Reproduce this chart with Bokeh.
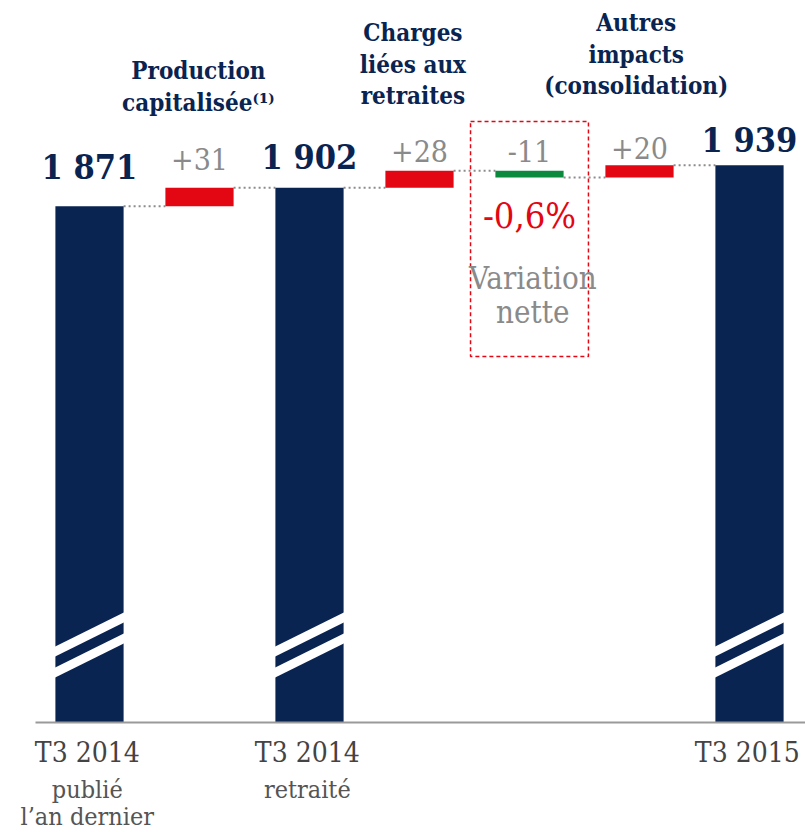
from bokeh.plotting import figure
from bokeh.models import Range1d
from bokeh.embed import file_html
from bokeh.resources import INLINE
from bokeh.core.properties import value

# ---------------- data ----------------
steps = ["T3 2014 publié l'an dernier", "Production capitalisée", "T3 2014 retraité",
         "Charges liées aux retraites", "Variation nette", "Autres impacts (consolidation)", "T3 2015"]
kinds = ["total", "delta", "total", "delta", "delta", "delta", "total"]
totals = [1871, 1902, 1939]
deltas = [31, 28, -11, 20]
total_labels = ["1 871", "1 902", "1 939"]
delta_labels = ["+31", "+28", "-11", "+20"]
title_lines = [["Production", "capitalisée⁽¹⁾"], ["Charges", "liées aux", "retraites"], [],
               ["Autres", "impacts", "(consolidation)"]]
axis_lines = [["T3 2014", "publié", "l’an dernier"], ["T3 2014", "retraité"], ["T3 2015"]]
net_lines = ["Variation", "nette"]

# ---------------- geometry / style ----------------
W, H = 805, 832
PX = 0.603            # pixels per unit
FLOOR = 1015          # value shown at the (broken) axis line
AXIS_PY = 722         # y of axis line
SLOT = 110
FIRST_CX = 89
Y_END = FLOOR + AXIS_PY / PX
Y_START = Y_END - H / PX
X_START = -FIRST_CX / SLOT
X_END = X_START + W / SLOT


def ypx(py):
    return Y_END - py / PX


def xpx(px):
    return X_START + px / SLOT


NAVY = "#0a2452"
RED = "#e30613"
GREEN = "#0b8a3d"
GRAY = "#8a8a8a"
BW = 0.62
SERIF = value("DejaVu Serif Condensed")

p = figure(width=W, height=H, output_backend="svg", toolbar_location=None,
           x_range=Range1d(X_START, X_END), y_range=Range1d(Y_START, Y_END),
           min_border=0, outline_line_color=None)
p.axis.visible = False
p.grid.visible = False
p.background_fill_color = "white"
p.border_fill_color = "white"

# waterfall computation
xs_tot, top_tot = [], []
xs_d, bot_d, top_d, col_d = [], [], [], []
levels = []
ti = di = 0
run = None
for i, k in enumerate(kinds):
    if k == "total":
        run = totals[ti]
        xs_tot.append(i)
        top_tot.append(run)
        ti += 1
    else:
        d = deltas[di]
        xs_d.append(i)
        bot_d.append(min(run, run + d))
        top_d.append(max(run, run + d))
        col_d.append(RED if d > 0 else GREEN)
        run = run + d
        di += 1
    levels.append(run)

# connectors
cx0 = [i + BW / 2 for i in range(len(kinds) - 1)]
cx1 = [i + 1 - BW / 2 for i in range(len(kinds) - 1)]
cy = levels[:-1]
p.segment(x0=cx0, x1=cx1, y0=cy, y1=cy, line_color="#8c8c8c", line_width=2, line_dash="2 3")

p.vbar(x=xs_tot, top=top_tot, bottom=FLOOR, width=BW, fill_color=NAVY, line_color=None)
p.vbar(x=xs_d, top=top_d, bottom=bot_d, width=BW, fill_color=col_d, line_color=None)

# break stripes
sxs, sys = [], []
for c in xs_tot:
    l, r = c - BW / 2 - 0.02, c + BW / 2 + 0.02
    for (lt, lb, rt, rb) in [(647, 657, 611, 621), (668, 678, 632, 642)]:
        sxs.append([l, r, r, l])
        sys.append([ypx(lt), ypx(rt), ypx(rb), ypx(lb)])
p.patches(sxs, sys, fill_color="white", line_color=None)

# axis line
p.segment(x0=[xpx(35)], x1=[X_END], y0=[FLOOR], y1=[FLOOR], line_color="#9a9a9a", line_width=2)

# dashed box around net variation
vi = xs_d[2]
p.quad(left=[vi - 0.536], right=[vi + 0.536], top=[ypx(121)], bottom=[ypx(356)],
       fill_color=None, line_color=RED, line_width=1.5, line_dash="4 3")

# total labels
tot_dy = [-39, -31, -25]
for x, t, lab, dy in zip(xs_tot, top_tot, total_labels, tot_dy):
    p.text(x=[x], y=[t], text=[lab], text_align="center", text_baseline="middle", y_offset=dy,
           text_font=SERIF, text_font_size="34px", text_font_style="bold", text_color=NAVY)

# delta labels
d_dy = [-29, -20, -20, -17]
for x, t, lab, dy in zip(xs_d, top_d, delta_labels, d_dy):
    p.text(x=[x], y=[t], text=[lab], text_align="center", text_baseline="middle", y_offset=dy,
           text_font=SERIF, text_font_size="30px", text_color=GRAY)

# net percent (variation nette vs restated base)
pct = deltas[2] / totals[1] * 100
pct_lab = f"{pct:+.1f}%".replace(".", ",")
p.text(x=[vi], y=[ypx(215)], text=[pct_lab], text_align="center", text_baseline="middle",
       text_font=SERIF, text_font_size="36px", text_color=RED)
for j, line in enumerate(net_lines):
    p.text(x=[vi + 0.03], y=[ypx(277 + 34 * j)], text=[line], text_align="center",
           text_baseline="middle", text_font=SERIF, text_font_size="31px", text_color=GRAY)

# titles over deltas
title_top = [70, 32, None, 22]
title_dx = [-0.01, -0.06, 0, -0.03]
for x, lines, t0, dx in zip(xs_d, title_lines, title_top, title_dx):
    for j, line in enumerate(lines):
        p.text(x=[x + dx], y=[ypx(t0 + 31.5 * j)], text=[line], text_align="center",
               text_baseline="middle", text_font=SERIF, text_font_size="24px",
               text_font_style="bold", text_color=NAVY)

# category labels under totals
for x, lines in zip(xs_tot, axis_lines):
    for j, line in enumerate(lines):
        p.text(x=[x - 0.02], y=[ypx([752, 789, 816][j])], text=[line], text_align="center",
               text_baseline="middle", text_font=SERIF,
               text_font_size="28px" if j == 0 else "25px",
               text_color="#444444" if j == 0 else "#555555")

open("out.html", "w").write(file_html(p, INLINE))
